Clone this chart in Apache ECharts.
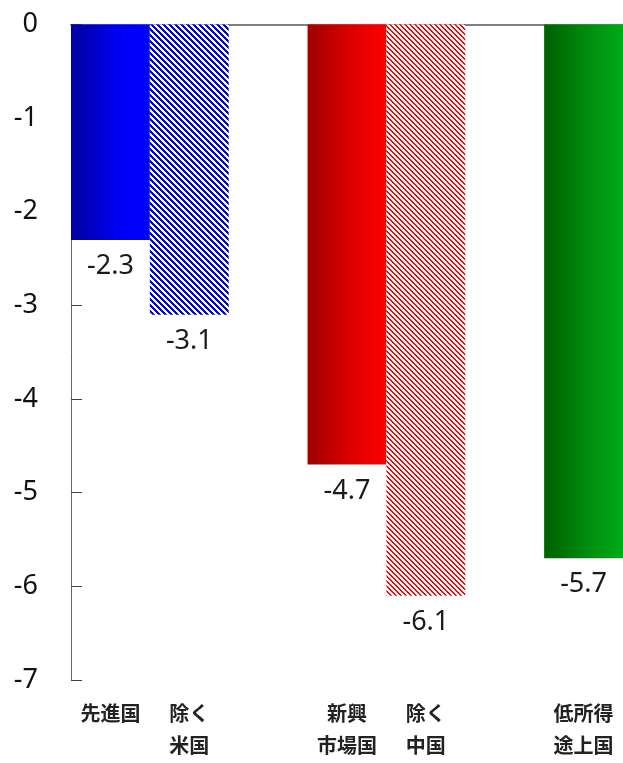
<!DOCTYPE html>
<html>
<head>
<meta charset="utf-8">
<script src="https://cdn.jsdelivr.net/npm/echarts@6/dist/echarts.min.js"></script>
<style>
  html, body { margin: 0; padding: 0; background: #fff; }
  #chart { width: 623px; height: 763px; }
</style>
</head>
<body>
<div id="chart"></div>
<script>
// Categories (empty strings are spacer slots between groups)
const categories = ['先進国', '除く\n米国', '', '新興\n市場国', '除く\n中国', '', '低所得\n途上国'];
// Values per slot (null = spacer)
const values = [-2.3, -3.1, null, -4.7, -6.1, null, -5.7];
// Value-axis range and step
const yMin = -7;
const yMax = 0;
const yStep = 1;

// Diagonal hatch tile: lines run down-right; cell = pixel block size
function hatch(color, period, onCount, cell) {
  const size = period * cell;
  const c = document.createElement('canvas');
  c.width = size; c.height = size;
  const ctx = c.getContext('2d');
  ctx.fillStyle = '#ffffff';
  ctx.fillRect(0, 0, size, size);
  ctx.fillStyle = color;
  for (let by = 0; by < period; by++) {
    for (let bx = 0; bx < period; bx++) {
      const m = ((bx - by) % period + period) % period;
      if (m < onCount) ctx.fillRect(bx * cell, by * cell, cell, cell);
    }
  }
  return { image: c, repeat: 'repeat' };
}

function grad(from, mid, to) {
  return new echarts.graphic.LinearGradient(0, 0, 1, 0, [
    { offset: 0, color: from },
    { offset: 0.6, color: mid },
    { offset: 1, color: to }
  ]);
}

const fills = [
  grad('#00009c', '#0000f4', '#0000ff'),
  hatch('#0000ff', 6, 3, 1),
  null,
  grad('#9e0000', '#e00000', '#ff0000'),
  hatch('#ff0000', 5, 2, 1),
  null,
  grad('#006000', '#009010', '#00aa18')
];

const chart = echarts.init(document.getElementById('chart'), null, { renderer: 'canvas' });

chart.setOption({
  animation: false,
  backgroundColor: '#ffffff',
  grid: { left: 71, right: 0, top: 24.5, bottom: 83, containLabel: false },
  xAxis: [
    {
      type: 'category',
      data: categories,
      position: 'bottom',
      axisLine: { show: false, onZero: false },
      axisTick: { show: false },
      axisLabel: {
        interval: 0,
        margin: 17,
        fontSize: 20,
        fontWeight: 'bold',
        lineHeight: 32,
        color: '#222',
        fontFamily: '"Noto Sans CJK JP", sans-serif'
      }
    },
    {
      type: 'category',
      data: categories,
      position: 'top',
      axisLine: { show: true, onZero: false, lineStyle: { color: '#808080', width: 2 } },
      axisTick: { show: false },
      axisLabel: { show: false }
    }
  ],
  yAxis: {
    type: 'value',
    min: yMin,
    max: yMax,
    interval: yStep,
    splitLine: { show: false },
    axisLine: { show: true, lineStyle: { color: '#666', width: 1 } },
    axisTick: { show: true, inside: true, length: 11, lineStyle: { color: '#444' } },
    axisLabel: {
      margin: 33,
      fontSize: 27,
      color: '#111',
      fontFamily: '"Noto Sans", sans-serif'
    }
  },
  series: [{
    type: 'bar',
    xAxisIndex: 0,
    barWidth: '100%',
    barGap: 0,
    data: values.map((v, i) => v === null ? null : { value: v, itemStyle: { color: fills[i] } }),
    label: {
      show: true,
      position: 'bottom',
      distance: 13,
      fontSize: 27,
      color: '#1a1a1a',
      fontFamily: '"Noto Sans", sans-serif',
      formatter: p => p.value.toFixed(1)
    }
  }]
});
</script>
</body>
</html>
